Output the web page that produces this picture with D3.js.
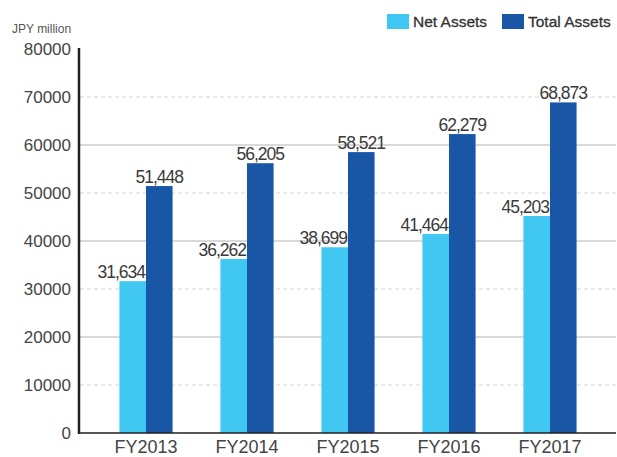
<!DOCTYPE html>
<html>
<head>
<meta charset="utf-8">
<script src="https://cdn.jsdelivr.net/npm/d3@7"></script>
<style>
  body { margin: 0; background: #fff; }
  svg { display: block; font-family: "Liberation Sans", Arial, sans-serif; }
</style>
</head>
<body>
<svg width="617" height="457"></svg>
<script>
var years = ["FY2013", "FY2014", "FY2015", "FY2016", "FY2017"];
var netAssets = [31634, 36262, 38699, 41464, 45203];
var totalAssets = [51448, 56205, 58521, 62279, 68873];
var seriesNames = ["Net Assets", "Total Assets"];
var seriesColors = ["#40c8f3", "#1957a6"];
var yTicks = [0, 10000, 20000, 30000, 40000, 50000, 60000, 70000, 80000];

var svg = d3.select("svg");

var y = d3.scaleLinear().domain([0, 80000]).range([433, 49]);
var x0 = d3.scaleBand().domain(years).range([95.5, 600.5]);
var x1 = d3.scaleBand().domain(seriesNames).range([0, x0.bandwidth()]).paddingOuter(0.9);

// grid lines
svg.selectAll(".grid")
  .data(yTicks.filter(function(d) { return d > 0 && d < 80000; }))
  .enter().append("line")
  .attr("class", "grid")
  .attr("x1", 80).attr("x2", 616)
  .attr("y1", function(d) { return y(d); })
  .attr("y2", function(d) { return y(d); })
  .attr("stroke", function(d) { return (d / 10000) % 2 === 0 ? "#b3b3b3" : "#d6d6d6"; })
  .attr("stroke-width", 1.2)
  .attr("stroke-dasharray", function(d) { return (d / 10000) % 2 === 0 ? null : "4,3"; });

// bars
var rows = years.map(function(yr, i) {
  return { year: yr, vals: [
    { name: seriesNames[0], v: netAssets[i], c: seriesColors[0] },
    { name: seriesNames[1], v: totalAssets[i], c: seriesColors[1] }
  ] };
});

var groups = svg.selectAll(".grp")
  .data(rows)
  .enter().append("g")
  .attr("class", "grp")
  .attr("transform", function(d) { return "translate(" + x0(d.year) + ",0)"; });

groups.selectAll("rect")
  .data(function(d) { return d.vals; })
  .enter().append("rect")
  .attr("x", function(d) { return x1(d.name); })
  .attr("width", x1.bandwidth())
  .attr("y", function(d) { return y(d.v); })
  .attr("height", function(d) { return y(0) - y(d.v); })
  .attr("fill", function(d) { return d.c; });

groups.selectAll("text")
  .data(function(d) { return d.vals; })
  .enter().append("text")
  .attr("x", function(d, i) {
    return i === 0 ? x1(d.name) + x1.bandwidth() - 1 : x1(d.name) + x1.bandwidth() / 2;
  })
  .attr("y", function(d) { return y(d.v) - 3; })
  .attr("text-anchor", function(d, i) { return i === 0 ? "end" : "middle"; })
  .attr("font-size", "17.5px")
  .attr("letter-spacing", "-1px")
  .attr("fill", "#3a3a3a")
  .text(function(d) { return d3.format(",")(d.v); });

// y axis
var yAxis = svg.append("g")
  .attr("transform", "translate(79,0)")
  .call(d3.axisLeft(y).tickValues(yTicks).tickSize(0).tickPadding(8).tickFormat(d3.format("d")));
yAxis.select(".domain").remove();
yAxis.selectAll("text")
  .attr("font-size", "17px")
  .attr("font-family", "Liberation Sans, Arial, sans-serif")
  .attr("fill", "#444");

svg.append("line")
  .attr("x1", 79).attr("x2", 79)
  .attr("y1", y(80000) - 1).attr("y2", y(0) + 1)
  .attr("stroke", "#231f20").attr("stroke-width", 2.5);

// x axis
var xAxis = svg.append("g")
  .attr("transform", "translate(0,433)")
  .call(d3.axisBottom(x0).tickSize(0));
xAxis.select(".domain").remove();
xAxis.selectAll("text")
  .attr("font-size", "18px")
  .attr("font-family", "Liberation Sans, Arial, sans-serif")
  .attr("fill", "#444")
  .attr("y", 19.5)
  .attr("dy", null);

svg.append("line")
  .attr("x1", 78).attr("x2", 616)
  .attr("y1", 433).attr("y2", 433)
  .attr("stroke", "#231f20").attr("stroke-width", 1.6);

// unit label
svg.append("text")
  .attr("x", 12).attr("y", 33)
  .attr("font-size", "12px")
  .attr("fill", "#555")
  .text("JPY million");

// legend
var legendX = [387, 502];
var legend = svg.selectAll(".lg")
  .data(seriesNames)
  .enter().append("g")
  .attr("class", "lg")
  .attr("transform", function(d, i) { return "translate(" + legendX[i] + ",14)"; });
legend.append("rect")
  .attr("width", 22).attr("height", 15)
  .attr("fill", function(d, i) { return seriesColors[i]; });
legend.append("text")
  .attr("x", 26).attr("y", 13)
  .attr("font-size", "15.5px")
  .attr("fill", "#333")
  .attr("stroke", "#333").attr("stroke-width", 0.3)
  .text(function(d) { return d; });
</script>
</body>
</html>
